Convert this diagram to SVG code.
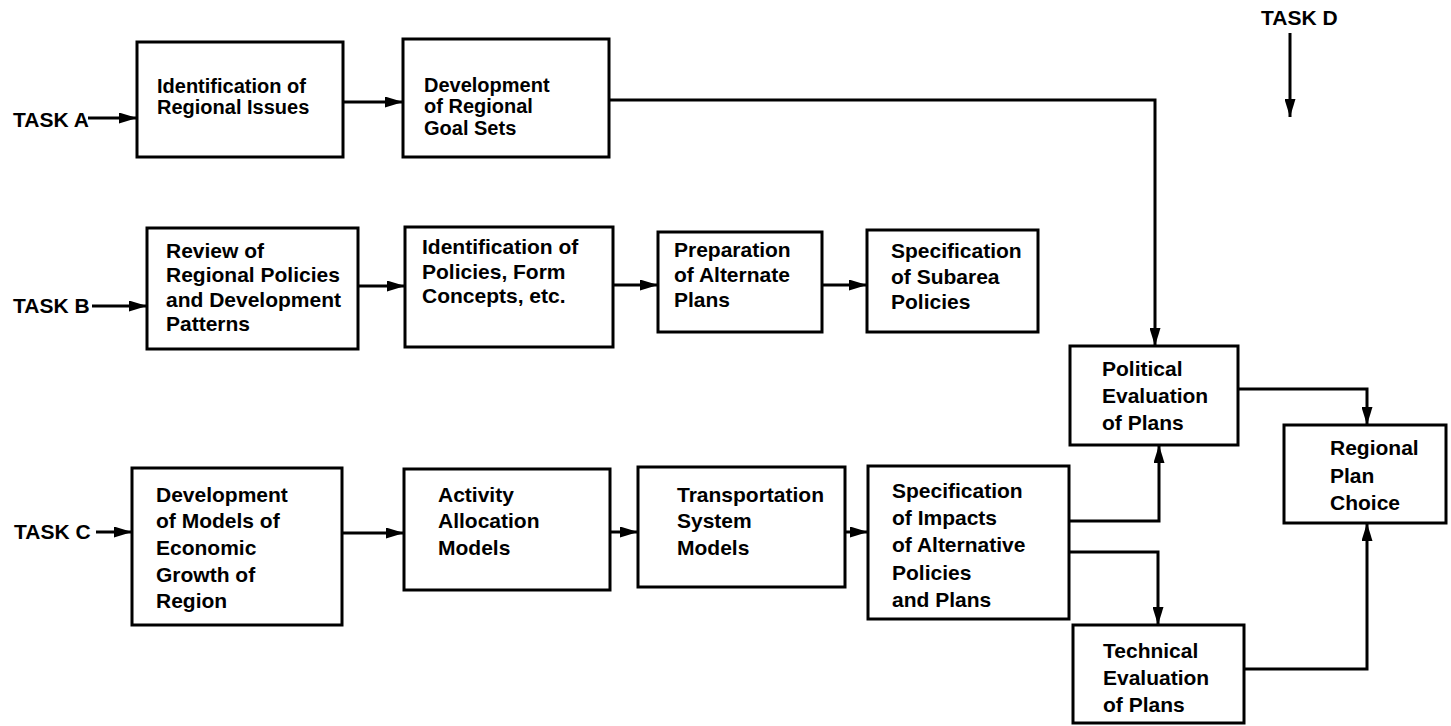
<svg xmlns="http://www.w3.org/2000/svg" width="1451" height="726" viewBox="0 0 1451 726">
  <style>
    .box { fill: #fff; stroke: #000; stroke-width: 3; }
    .lbl { font-family: "Liberation Sans", Arial, sans-serif; font-weight: bold; font-size: 21px; fill: #000; }
    .lbl.sm { font-size: 20px; }
    .task { font-family: "Liberation Sans", Arial, sans-serif; font-weight: bold; font-size: 21px; fill: #000; }
    .wire { fill: none; stroke: #000; stroke-width: 3; }
  </style>
  <defs>
    <marker id="arrow" viewBox="0 0 18 11" refX="18" refY="5.5" markerWidth="18" markerHeight="11" markerUnits="userSpaceOnUse" orient="auto">
      <path d="M0,0 L18,5.5 L0,11 z" fill="#000"/>
    </marker>
  </defs>
  <rect width="1451" height="726" fill="#fff"/>

  <!-- task entry labels -->
  <g id="task-labels">
    <text class="task" x="13" y="127">TASK A</text>
    <text class="task" x="13" y="313">TASK B</text>
    <text class="task" x="14" y="539">TASK C</text>
    <text class="task" x="1261" y="25">TASK D</text>
  </g>

  <!-- row A -->
  <g id="regional-issues">
    <rect class="box" x="137" y="42" width="206" height="115"/>
    <text class="lbl sm" x="157" y="93">Identification of<tspan x="157" y="114">Regional Issues</tspan></text>
  </g>
  <g id="goal-sets">
    <rect class="box" x="403" y="39" width="206" height="118"/>
    <text class="lbl sm" x="424" y="92">Development<tspan x="424" y="113">of Regional</tspan><tspan x="424" y="135">Goal Sets</tspan></text>
  </g>

  <!-- row B -->
  <g id="review-policies">
    <rect class="box" x="147" y="228" width="211" height="121"/>
    <text class="lbl" x="166" y="258">Review of<tspan x="166" y="282">Regional Policies</tspan><tspan x="166" y="307">and Development</tspan><tspan x="166" y="331">Patterns</tspan></text>
  </g>
  <g id="form-concepts">
    <rect class="box" x="405" y="227" width="208" height="120"/>
    <text class="lbl" x="422" y="254">Identification of<tspan x="422" y="279">Policies, Form</tspan><tspan x="422" y="303">Concepts, etc.</tspan></text>
  </g>
  <g id="alternate-plans">
    <rect class="box" x="658" y="232" width="164" height="100"/>
    <text class="lbl" x="674" y="257">Preparation<tspan x="674" y="282">of Alternate</tspan><tspan x="674" y="307">Plans</tspan></text>
  </g>
  <g id="subarea-policies">
    <rect class="box" x="867" y="230" width="171" height="102"/>
    <text class="lbl" x="891" y="258">Specification<tspan x="891" y="284">of Subarea</tspan><tspan x="891" y="309">Policies</tspan></text>
  </g>

  <!-- row C -->
  <g id="economic-models">
    <rect class="box" x="132" y="468" width="210" height="157"/>
    <text class="lbl" x="156" y="502">Development<tspan x="156" y="528">of Models of</tspan><tspan x="156" y="555">Economic</tspan><tspan x="156" y="582">Growth of</tspan><tspan x="156" y="608">Region</tspan></text>
  </g>
  <g id="activity-models">
    <rect class="box" x="404" y="469" width="206" height="121"/>
    <text class="lbl" x="438" y="502">Activity<tspan x="438" y="528">Allocation</tspan><tspan x="438" y="555">Models</tspan></text>
  </g>
  <g id="transport-models">
    <rect class="box" x="638" y="467" width="207" height="120"/>
    <text class="lbl" x="677" y="502">Transportation<tspan x="677" y="528">System</tspan><tspan x="677" y="555">Models</tspan></text>
  </g>
  <g id="impacts">
    <rect class="box" x="868" y="466" width="201" height="153"/>
    <text class="lbl" x="892" y="498">Specification<tspan x="892" y="525">of Impacts</tspan><tspan x="892" y="552">of Alternative</tspan><tspan x="892" y="580">Policies</tspan><tspan x="892" y="607">and Plans</tspan></text>
  </g>

  <!-- evaluation and choice -->
  <g id="political-eval">
    <rect class="box" x="1070" y="346" width="168" height="99"/>
    <text class="lbl" x="1102" y="376">Political<tspan x="1102" y="403">Evaluation</tspan><tspan x="1102" y="430">of Plans</tspan></text>
  </g>
  <g id="technical-eval">
    <rect class="box" x="1073" y="625" width="171" height="98"/>
    <text class="lbl" x="1103" y="658">Technical<tspan x="1103" y="685">Evaluation</tspan><tspan x="1103" y="712">of Plans</tspan></text>
  </g>
  <g id="plan-choice">
    <rect class="box" x="1284" y="425" width="162" height="98"/>
    <text class="lbl" x="1330" y="455">Regional<tspan x="1330" y="483">Plan</tspan><tspan x="1330" y="510">Choice</tspan></text>
  </g>

  <!-- connectors -->
  <g id="connectors">
    <path class="wire" d="M88,118 L137,118" marker-end="url(#arrow)"/>
    <path class="wire" d="M92,306 L147,306" marker-end="url(#arrow)"/>
    <path class="wire" d="M96,532 L132,532" marker-end="url(#arrow)"/>
    <path class="wire" d="M1290,33 L1290,117" marker-end="url(#arrow)"/>

    <path class="wire" d="M343,102 L403,102" marker-end="url(#arrow)"/>
    <path class="wire" d="M609,100 H1155 V346" marker-end="url(#arrow)"/>

    <path class="wire" d="M358,286 L405,286" marker-end="url(#arrow)"/>
    <path class="wire" d="M613,285 L658,285" marker-end="url(#arrow)"/>
    <path class="wire" d="M822,285 L867,285" marker-end="url(#arrow)"/>

    <path class="wire" d="M342,533 L404,533" marker-end="url(#arrow)"/>
    <path class="wire" d="M610,532 L638,532" marker-end="url(#arrow)"/>
    <path class="wire" d="M845,532 L868,532" marker-end="url(#arrow)"/>

    <path class="wire" d="M1069,521 H1159 V445" marker-end="url(#arrow)"/>
    <path class="wire" d="M1069,552 H1158 V625" marker-end="url(#arrow)"/>
    <path class="wire" d="M1238,389 H1367 V425" marker-end="url(#arrow)"/>
    <path class="wire" d="M1244,669 H1367 V523" marker-end="url(#arrow)"/>
  </g>
</svg>
